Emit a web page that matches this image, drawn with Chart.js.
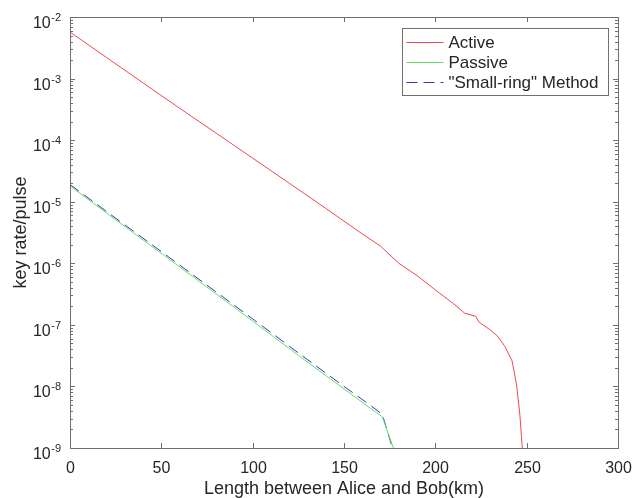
<!DOCTYPE html>
<html>
<head>
<meta charset="utf-8">
<script src="https://cdn.jsdelivr.net/npm/chart.js@4"></script>
<style>
  body { margin: 0; background: #fff; }
  #wrap { width: 635px; height: 498px; }
</style>
</head>
<body>
<div id="wrap"><canvas id="myChart"></canvas></div>
<script>
// values (km, key rate per pulse)
const activeKm   = [0, 20, 40, 60, 80, 100, 120, 140, 160, 170, 180, 190, 200, 210, 216, 222, 224, 230, 234, 238, 242, 244.4, 246.2, 247.6, 248.5];
const activeRate = [5.7e-3, 2.2e-3, 8.5e-4, 3.3e-4, 1.3e-4, 5.1e-5, 2.0e-5, 7.8e-6, 3.0e-6, 1.9e-6, 1.0e-6, 6.3e-7, 3.7e-7, 2.2e-7, 1.55e-7, 1.38e-7, 1.1e-7, 8.3e-8, 6.6e-8, 4.5e-8, 2.6e-8, 1.1e-8, 3.7e-9, 1.0e-9, 2e-10];

const passiveKm   = [0, 25, 50, 75, 100, 125, 150, 165, 171, 177, 178];
const passiveRate = [1.8e-5, 5.1e-6, 1.45e-6, 4.1e-7, 1.15e-7, 3.2e-8, 9.1e-9, 4.3e-9, 3.2e-9, 1.0e-9, 7e-10];

const ringKm   = [0, 25, 50, 75, 100, 125, 150, 165, 171, 176.5, 177.5];
const ringRate = [1.9e-5, 5.4e-6, 1.55e-6, 4.4e-7, 1.25e-7, 3.5e-8, 1.0e-8, 4.8e-9, 3.5e-9, 1.0e-9, 6e-10];

const xTicks = [0, 50, 100, 150, 200, 250, 300];
const yExponents = [-9, -8, -7, -6, -5, -4, -3, -2];

const seriesNames = ["Active", "Passive", "\"Small-ring\" Method"];

const axisColor = "#6f6f6f";
const textColor = "#262626";
const fontFamily = "'Liberation Sans', Arial, Helvetica, sans-serif";

function pts(xs, ys) {
  return xs.map((v, i) => ({ x: v, y: ys[i] }));
}

// MATLAB-like box, inward ticks, 10^n labels, axis titles and boxed legend
const matlabAxes = {
  id: "matlabAxes",
  afterDraw(chart) {
    const { ctx, chartArea: a } = chart;
    const xs = chart.scales.x, ys = chart.scales.y;
    ctx.save();
    ctx.strokeStyle = axisColor;
    ctx.lineWidth = 1;
    ctx.strokeRect(Math.round(a.left) + 0.5, Math.round(a.top) + 0.5,
                   Math.round(a.right - a.left), Math.round(a.bottom - a.top));

    const line = (x1, y1, x2, y2) => {
      ctx.beginPath(); ctx.moveTo(x1, y1); ctx.lineTo(x2, y2); ctx.stroke();
    };

    // x ticks + labels
    ctx.fillStyle = textColor;
    ctx.font = "16px " + fontFamily;
    ctx.textAlign = "center";
    ctx.textBaseline = "alphabetic";
    xTicks.forEach(v => {
      const px = Math.round(xs.getPixelForValue(v)) + 0.5;
      line(px, a.bottom, px, a.bottom - 5);
      line(px, a.top, px, a.top + 5);
      ctx.fillText(String(v), px, a.bottom + 25);
    });

    // y ticks (major + minor) + labels
    yExponents.forEach(e => {
      const py = Math.round(ys.getPixelForValue(Math.pow(10, e))) + 0.5;
      line(a.left, py, a.left + 5, py);
      line(a.right, py, a.right - 5, py);
      if (e < -2) {
        for (let k = 2; k <= 9; k++) {
          const pm = Math.round(ys.getPixelForValue(k * Math.pow(10, e))) + 0.5;
          line(a.left, pm, a.left + 3, pm);
          line(a.right, pm, a.right - 3, pm);
        }
      }
      ctx.textAlign = "right";
      ctx.font = "11px " + fontFamily;
      const expStr = String(e);
      const expRight = a.left - 9;
      ctx.fillText(expStr, expRight, py + 3);
      const expW = ctx.measureText(expStr).width;
      ctx.font = "16px " + fontFamily;
      ctx.fillText("10", expRight - expW - 0.5, py + 10);
    });

    // axis titles
    ctx.font = "18px " + fontFamily;
    ctx.textAlign = "center";
    ctx.fillText("Length between Alice and Bob(km)", (a.left + a.right) / 2, 494);
    ctx.save();
    ctx.translate(21, (a.top + a.bottom) / 2);
    ctx.rotate(-Math.PI / 2);
    ctx.textBaseline = "middle";
    ctx.fillText("key rate/pulse", 0, 0);
    ctx.restore();

    // legend
    ctx.font = "17px " + fontFamily;
    const ds = chart.data.datasets;
    const tw = Math.max(...ds.map(d => ctx.measureText(d.label).width));
    const boxW = Math.round(46 + tw + 10), boxH = 67;
    const bx = Math.round(a.right - 10 - boxW) + 0.5, by = Math.round(a.top + 11) + 0.5;
    ctx.fillStyle = "#fff";
    ctx.fillRect(bx, by, boxW, boxH);
    ctx.strokeStyle = axisColor;
    ctx.strokeRect(bx, by, boxW, boxH);
    ds.forEach((d, i) => {
      const cy = by + 14 + i * 20;
      ctx.strokeStyle = d.borderColor;
      ctx.setLineDash(d.borderDash || []);
      line(bx + 4, cy, bx + 41, cy);
      ctx.setLineDash([]);
      ctx.fillStyle = textColor;
      ctx.textAlign = "left";
      ctx.textBaseline = "middle";
      ctx.fillText(d.label, bx + 46, cy + 1);
    });
    ctx.restore();
  }
};

new Chart(document.getElementById("myChart"), {
  type: "line",
  data: {
    datasets: [
      { label: seriesNames[0], data: pts(activeKm, activeRate), borderColor: "#ec4a50", borderWidth: 1 },
      { label: seriesNames[1], data: pts(passiveKm, passiveRate), borderColor: "#62e062", borderWidth: 1 },
      { label: seriesNames[2], data: pts(ringKm, ringRate), borderColor: "#3636b8", borderWidth: 1, borderDash: [11, 6] }
    ]
  },
  options: {
    responsive: true,
    maintainAspectRatio: false,
    animation: false,
    devicePixelRatio: 1,
    elements: { point: { radius: 0 }, line: { tension: 0 } },
    layout: { padding: { top: 17, right: 17, left: 0, bottom: 0 } },
    plugins: { legend: { display: false }, tooltip: { enabled: false } },
    scales: {
      x: {
        type: "linear", min: 0, max: 300,
        ticks: { display: false },
        grid: { display: false },
        border: { display: false },
        afterFit: s => { s.height = 50; }
      },
      y: {
        type: "logarithmic", min: 1e-9, max: 1e-2,
        ticks: { display: false },
        grid: { display: false },
        border: { display: false },
        afterFit: s => { s.width = 70; }
      }
    }
  },
  plugins: [matlabAxes]
});
</script>
</body>
</html>
